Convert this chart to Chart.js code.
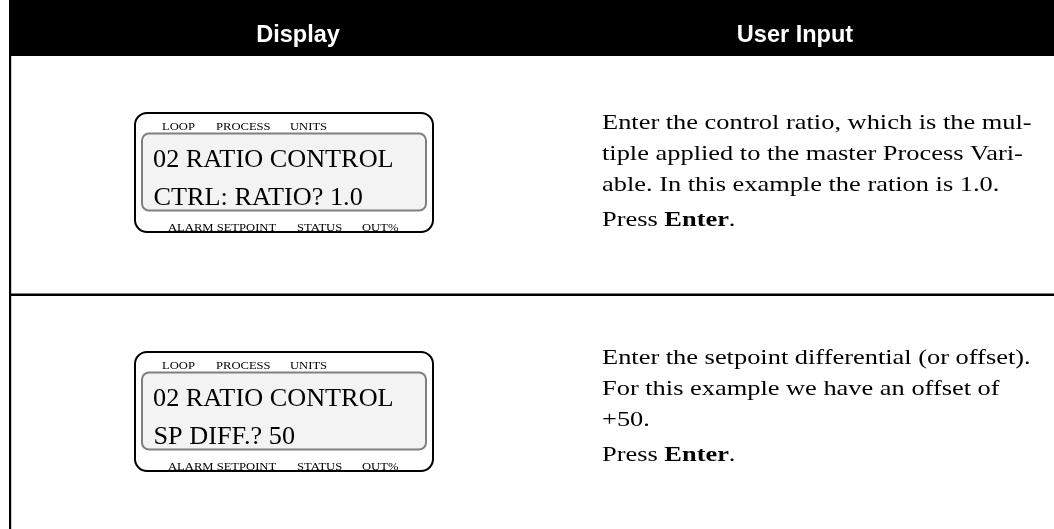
<!DOCTYPE html>
<html>
<head>
<meta charset="utf-8">
<script src="https://cdn.jsdelivr.net/npm/chart.js@4.4.0/dist/chart.umd.min.js"></script>
<style>
  html, body { margin: 0; padding: 0; background: #fff; }
  canvas { display: block; }
</style>
</head>
<body>
<canvas id="tableChart" width="1054" height="529"></canvas>
<script>
const W = 1054, H = 529;

// table text
const headers = ["Display", "User Input"];
const lcdTopLabels = ["LOOP", "PROCESS", "UNITS"];
const lcdBottomLabels = ["ALARM SETPOINT", "STATUS", "OUT%"];
const lcdLine1 = ["02 RATIO CONTROL", "02 RATIO CONTROL"];
const lcdLine2 = ["CTRL: RATIO? 1.0", "SP DIFF.? 50"];
const inputText = [
	["Enter the control ratio, which is the mul-", "tiple applied to the master Process Vari-", "able. In this example the ration is 1.0."],
	["Enter the setpoint differential (or offset).", "For this example we have an offset of", "+50."],
];
const pressText = ["Press ", "Enter", "."];

const SERIF = '"Liberation Serif", "Times New Roman", serif';
const SANS = '"Liberation Sans", Arial, sans-serif';

// text with a horizontal stretch, like the scanned page
function stretchText(ctx, txt, x, y, font, sx, align) {
	ctx.save();
	ctx.font = font;
	ctx.textBaseline = "alphabetic";
	ctx.textAlign = align || "left";
	ctx.translate(x, y);
	ctx.scale(sx, 1);
	ctx.fillText(txt, 0, 0);
	const w = ctx.measureText(txt).width * sx;
	ctx.restore();
	return w;
}

function roundRect(ctx, x, y, w, h, r) {
	ctx.beginPath();
	ctx.moveTo(x + r, y);
	ctx.arcTo(x + w, y, x + w, y + h, r);
	ctx.arcTo(x + w, y + h, x, y + h, r);
	ctx.arcTo(x, y + h, x, y, r);
	ctx.arcTo(x, y, x + w, y, r);
	ctx.closePath();
}

const tablePlugin = {
	id: "tablePlugin",
	afterDraw(chart) {
		const ctx = chart.ctx;
		const xs = chart.scales.x, ys = chart.scales.y;
		const px = v => xs.getPixelForValue(v);
		const py = v => ys.getPixelForValue(v);

		// header band
		ctx.fillStyle = "#000";
		ctx.fillRect(px(9), py(0), px(W) - px(9), py(56) - py(0));
		ctx.fillStyle = "#fff";
		const headX = [298, 795];
		headers.forEach((h, i) => {
			stretchText(ctx, h, px(headX[i]), py(41.5), "bold 24px " + SANS, 0.98, "center");
		});

		// borders
		ctx.fillStyle = "#000";
		ctx.fillRect(px(9), py(56), 2.2, py(H) - py(56));
		ctx.fillRect(px(9), py(293.5), px(W) - px(9), 2.5);

		const lcdTop = [113, 352];
		const textTop = [128.5, 364];
		for (let r = 0; r < 2; r++) {
			const T = lcdTop[r];
			const L = 135;
			// outer frame
			ctx.lineWidth = 2;
			ctx.strokeStyle = "#000";
			roundRect(ctx, px(L), py(T), 298, 119, 12);
			ctx.stroke();
			// inner screen
			ctx.fillStyle = "#f3f3f3";
			ctx.strokeStyle = "#808080";
			ctx.lineWidth = 2;
			roundRect(ctx, px(L + 7), py(T + 20.5), 284, 77, 7);
			ctx.fill();
			ctx.stroke();

			ctx.fillStyle = "#000";
			const topX = [27, 81, 155];
			lcdTopLabels.forEach((t, i) => stretchText(ctx, t, px(L + topX[i]), py(T + 16.8), "10.5px " + SERIF, 1.2));
			const botX = [33, 162, 227];
			lcdBottomLabels.forEach((t, i) => stretchText(ctx, t, px(L + botX[i]), py(T + 117.5), "10.5px " + SERIF, 1.2));

			stretchText(ctx, lcdLine1[r], px(L + 18), py(T + 53.5), "25px " + SERIF, 1.05);
			stretchText(ctx, lcdLine2[r], px(L + 18.5), py(T + 91.5), "25px " + SERIF, 1.05);

			// user input column
			const bx = 602;
			let by = textTop[r];
			inputText[r].forEach(line => {
				stretchText(ctx, line, px(bx), py(by), "22px " + SERIF, 1.2);
				by += 31;
			});
			by += 4;
			let x = bx;
			x += stretchText(ctx, pressText[0], px(x), py(by), "22px " + SERIF, 1.2);
			x += stretchText(ctx, pressText[1], px(x), py(by), "bold 22px " + SERIF, 1.2);
			stretchText(ctx, pressText[2], px(x), py(by), "22px " + SERIF, 1.2);
		}
	},
};

const ctx = document.getElementById("tableChart").getContext("2d");
const tableChart = new Chart(ctx, {
	type: "scatter",
	data: { datasets: [] },
	options: {
		responsive: false,
		animation: false,
		devicePixelRatio: 1,
		layout: { padding: 0 },
		plugins: { legend: { display: false }, tooltip: { enabled: false } },
		scales: {
			x: { type: "linear", min: 0, max: W, display: false },
			y: { type: "linear", min: 0, max: H, reverse: true, display: false },
		},
	},
	plugins: [tablePlugin],
});
</script>
</body>
</html>
